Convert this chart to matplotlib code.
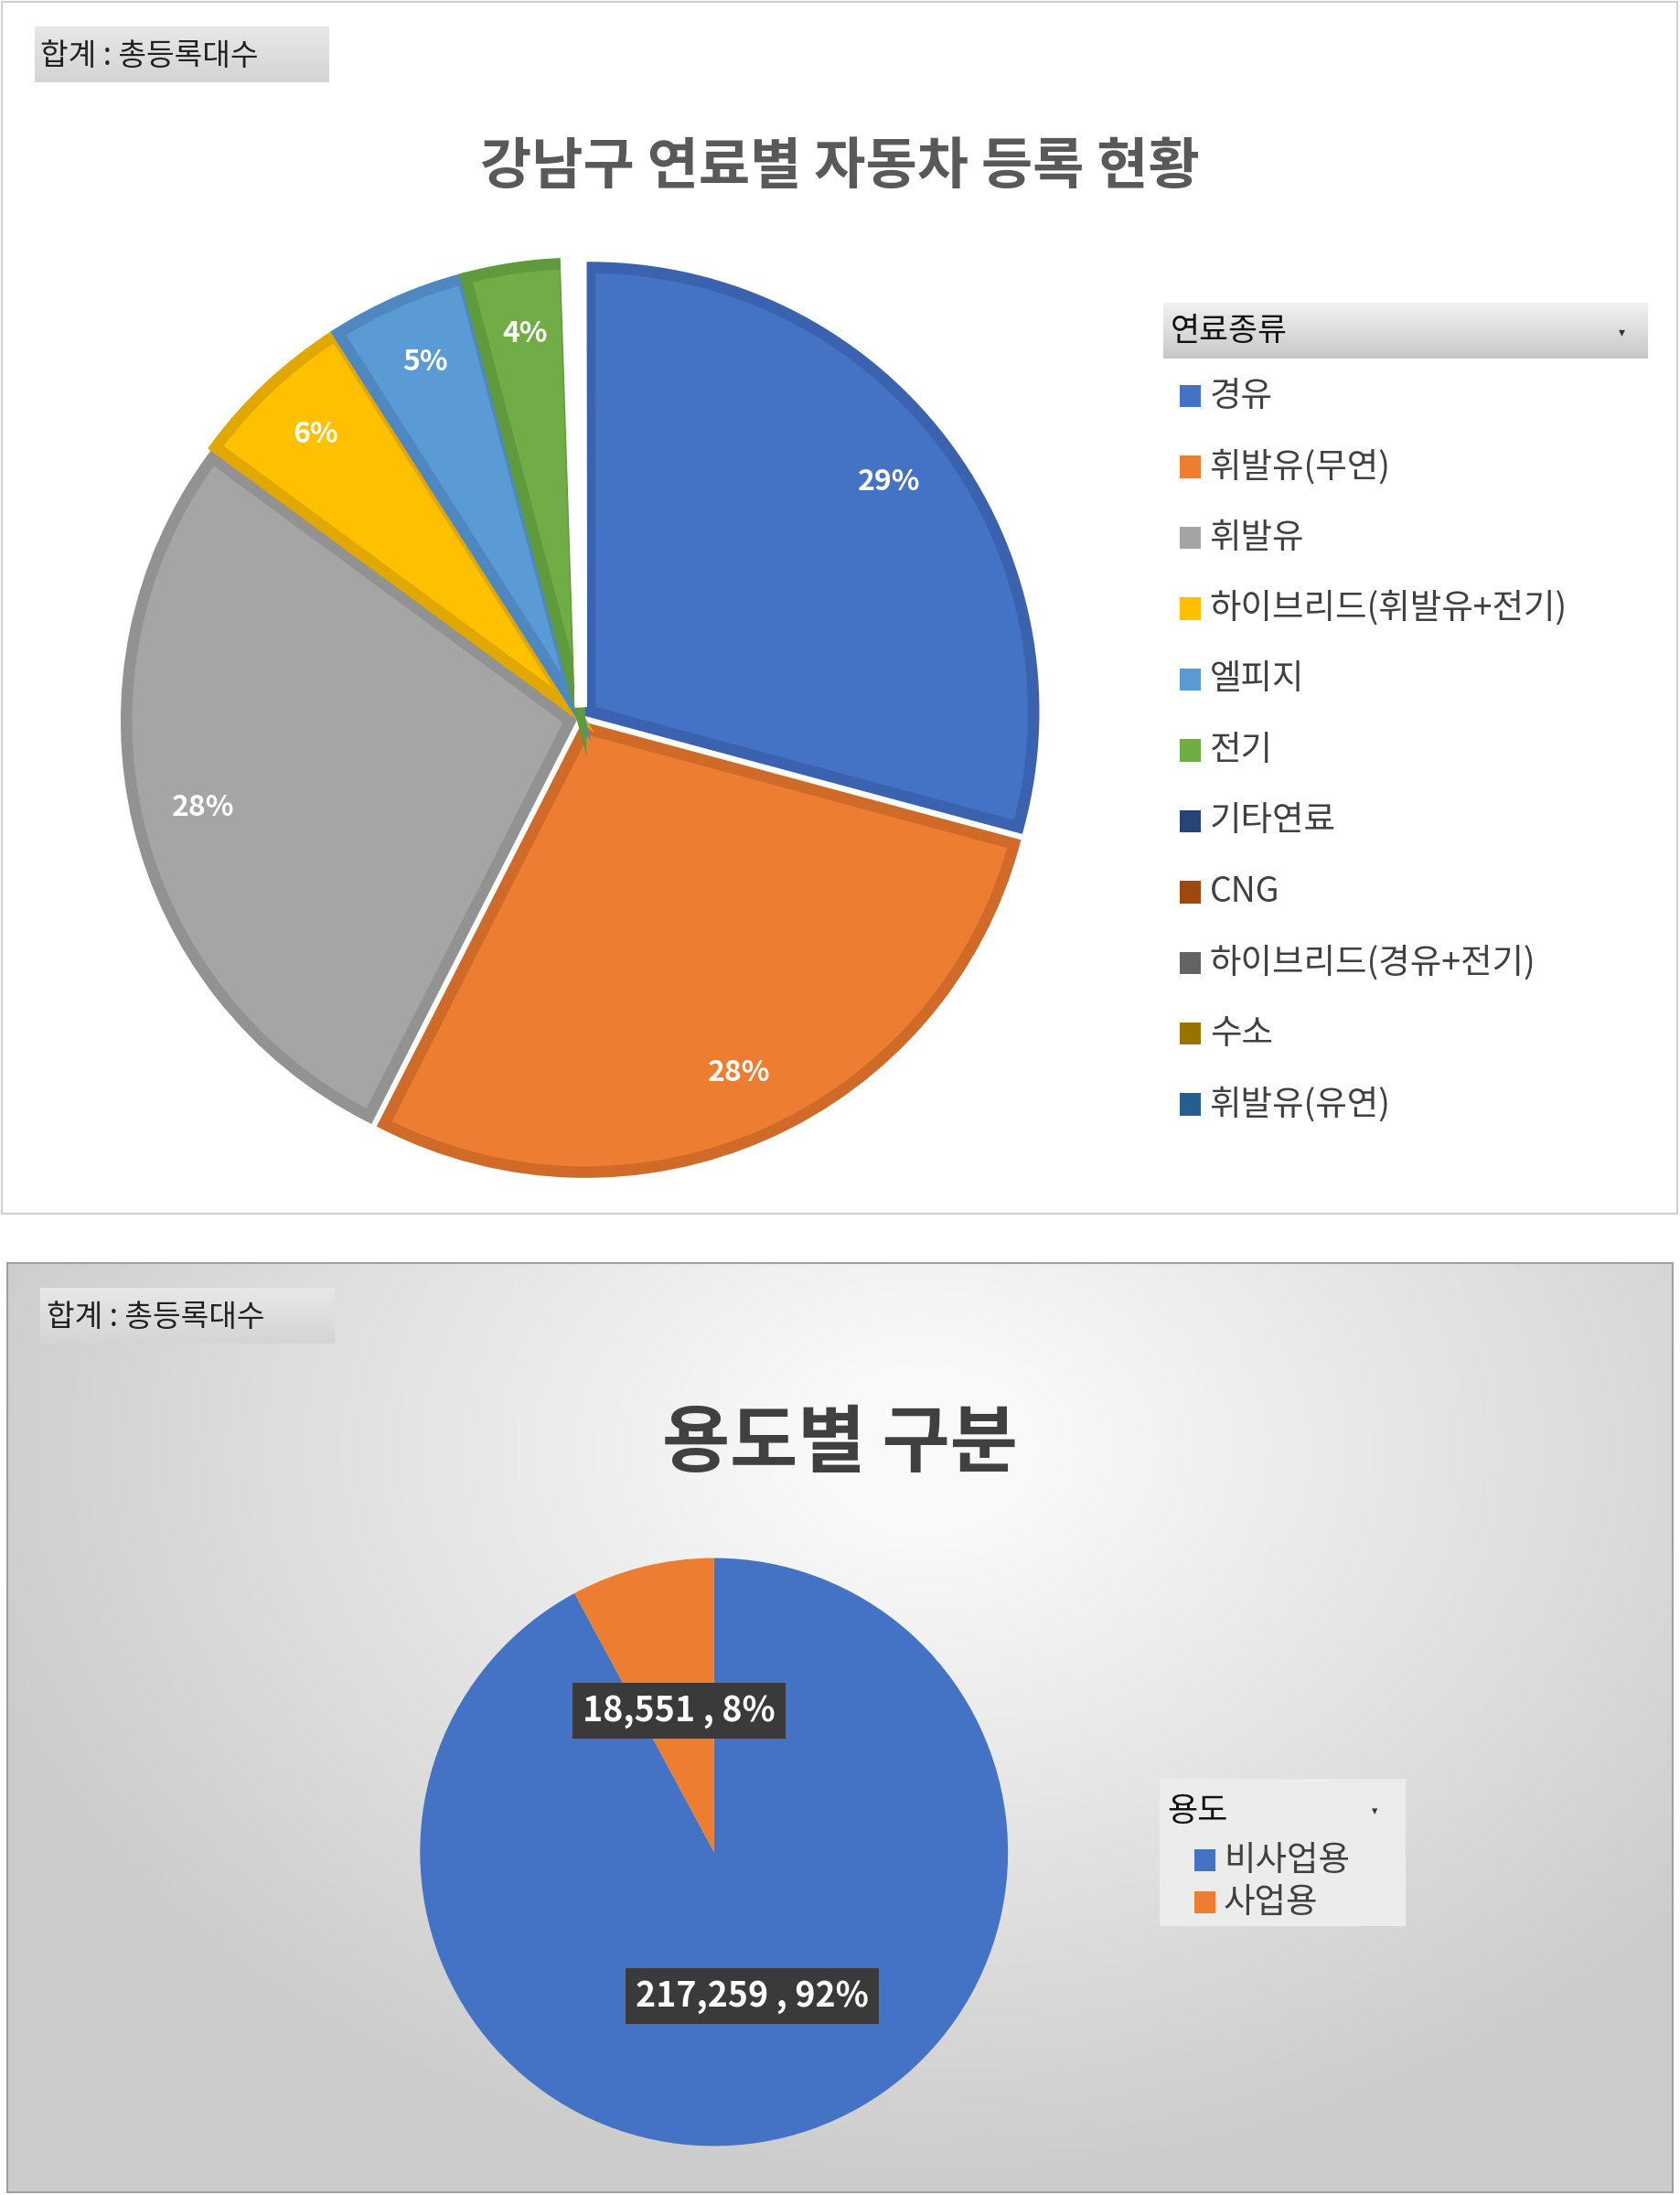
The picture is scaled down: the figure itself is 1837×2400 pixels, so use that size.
import numpy as np
import matplotlib.pyplot as plt
from matplotlib.patches import Rectangle

plt.rcParams['font.family'] = ['Noto Sans CJK KR', 'DejaVu Sans']

# fuel data (share of registrations)
fuel_labels = ['경유', '휘발유(무연)', '휘발유', '하이브리드(휘발유+전기)', '엘피지', '전기',
               '기타연료', 'CNG', '하이브리드(경유+전기)', '수소', '휘발유(유연)']
fuel_values = [29.2, 28.3, 27.6, 5.9, 4.9, 3.6, 0.25, 0.1, 0.1, 0.05, 0.02]
fuel_colors = ['#4472C4', '#ED7D31', '#A5A5A5', '#FFC000', '#5B9BD5', '#70AD47',
               '#264478', '#9E480E', '#636363', '#997300', '#255E91']
fuel_edges = ['#3A62AE', '#D06A28', '#929292', '#E0A800', '#4F88C0', '#5F9A3C',
              '#1E3A66', '#86400C', '#555555', '#826200', '#1F507D']

use_labels = ['비사업용', '사업용']
use_values = [217259, 18551]
use_colors = ['#4472C4', '#ED7D31']

W, H = 1200.0, 1568.0
fig = plt.figure(figsize=(18.37, 24), dpi=100)
fig.patch.set_facecolor('white')

def fx(x): return x / W
def fy(y): return 1 - y / H

def gray_box(x0, y0, x1, y1, top='#f0f0f0', bottom='#c8c8c8'):
    ax = fig.add_axes([fx(x0), fy(y1), fx(x1 - x0), (y1 - y0) / H])
    g = np.linspace(0, 1, 50).reshape(-1, 1)
    c0 = np.array(plt.matplotlib.colors.to_rgb(top))
    c1 = np.array(plt.matplotlib.colors.to_rgb(bottom))
    img = c0 + (c1 - c0) * g[:, :, None]
    ax.imshow(np.repeat(img, 2, axis=1), aspect='auto', extent=[0, 1, 0, 1])
    ax.axis('off')
    return ax

# panel borders
fig.add_artist(Rectangle((fx(1), fy(867)), fx(1197), 866 / H, transform=fig.transFigure,
                         fill=False, ec='#d0d0d0', lw=1.5))

# bottom panel radial gradient background
bg = fig.add_axes([fx(5), fy(1566), fx(1190), 664 / H])
yy, xx = np.mgrid[0:1:300j, 0:1:500j]
r = np.sqrt(((xx - 0.55) * 1.2) ** 2 + ((yy - 0.2) * 0.9) ** 2)
val = np.clip(1 - r * 0.28, 0.8, 0.98)
bg.imshow(np.dstack([val, val, val]), aspect='auto', extent=[0, 1, 0, 1], origin='upper')
bg.axis('off')
fig.add_artist(Rectangle((fx(5), fy(1566)), fx(1190), 664 / H, transform=fig.transFigure,
                         fill=False, ec='#a0a0a0', lw=1.5))

# field header boxes
gray_box(25, 19, 235, 59, '#e8e8e8', '#d4d4d4')
fig.text(fx(29), fy(40), '합계 : 총등록대수', fontsize=24, va='center', color='#222222')
gray_box(29, 920, 239, 960, '#e8e8e8', '#d4d4d4')
fig.text(fx(33), fy(941), '합계 : 총등록대수', fontsize=24, va='center', color='#222222')

# titles
fig.text(fx(600), fy(120), '강남구 연료별 자동차 등록 현황', fontsize=44, fontweight='bold',
         color='#595959', ha='center', va='center')
fig.text(fx(600), fy(1032), '용도별 구분', fontsize=58, fontweight='bold',
         color='#404040', ha='center', va='center')

# top pie
R1 = 325
ax1 = fig.add_axes([fx(415 - R1), fy(513 + R1), fx(2 * R1), 2 * R1 / H])
wedges, _, autotexts = ax1.pie(
    fuel_values, colors=fuel_colors, startangle=90, counterclock=False,
    explode=[0.025] * len(fuel_values),
    autopct=lambda p: f'{p:.0f}%' if p >= 1 else '', pctdistance=0.85,
    wedgeprops=dict(linewidth=9, edgecolor='white'),
    textprops=dict(color='white', fontsize=23, fontweight='bold'))
for w, ec in zip(wedges, fuel_edges):
    w.set_edgecolor(ec)
for w in wedges[6:]:
    w.set_edgecolor('white')
    w.set_facecolor('white')
ax1.set_xlim(-1.025, 1.025)
ax1.set_ylim(-1.025, 1.025)
ax1.set_aspect('equal')

# top legend
gray_box(831, 216, 1177, 256, '#f2f2f2', '#c8c8c8')
fig.text(fx(836), fy(237), '연료종류', fontsize=25, va='center', color='#111111')
fig.text(fx(1156), fy(237), '▾', fontsize=10, va='center', color='#333333')
for i, (lab, col) in enumerate(zip(fuel_labels, fuel_colors)):
    y = 283 + i * 50.6
    fig.add_artist(Rectangle((fx(843), fy(y + 8)), fx(15), 16 / H, transform=fig.transFigure,
                             fc=col, ec='none'))
    fig.text(fx(864), fy(y), lab, fontsize=27, va='center', color='#404040')

# bottom pie
R2 = 210
ax2 = fig.add_axes([fx(510 - R2), fy(1323 + R2), fx(2 * R2), 2 * R2 / H])
total = sum(use_values)
w2, _ = ax2.pie(use_values, colors=use_colors, startangle=90, counterclock=False,
                wedgeprops=dict(linewidth=0))
ax2.set_xlim(-1, 1)
ax2.set_ylim(-1, 1)
label_pos = [(0.13, -0.49), (-0.12, 0.48)]
for v, (lx, ly) in zip(use_values, label_pos):
    ax2.text(lx, ly, f'{v:,} , {v / total * 100:.0f}%', ha='center', va='center',
             color='white', fontsize=27, fontweight='bold',
             bbox=dict(boxstyle='square,pad=0.3', fc='#3a3a3a', ec='none'))
ax2.set_aspect('equal')

# bottom legend
fig.add_artist(Rectangle((fx(828), fy(1376)), fx(176), 105 / H, transform=fig.transFigure,
                         fc='#ececec', ec='none'))
gray_box(830, 1274, 1001, 1312, '#f2f2f2', '#c8c8c8')
fig.text(fx(834), fy(1294), '용도', fontsize=26, va='center', color='#111111')
fig.text(fx(980), fy(1294), '▾', fontsize=9, va='center', color='#333333')
for i, (lab, col) in enumerate(zip(use_labels, use_colors)):
    y = 1329 + i * 30
    fig.add_artist(Rectangle((fx(853), fy(y + 8)), fx(15), 16 / H, transform=fig.transFigure,
                             fc=col, ec='none'))
    fig.text(fx(874), fy(y), lab, fontsize=27, va='center', color='#404040')

fig.savefig('out.png', dpi=100)
